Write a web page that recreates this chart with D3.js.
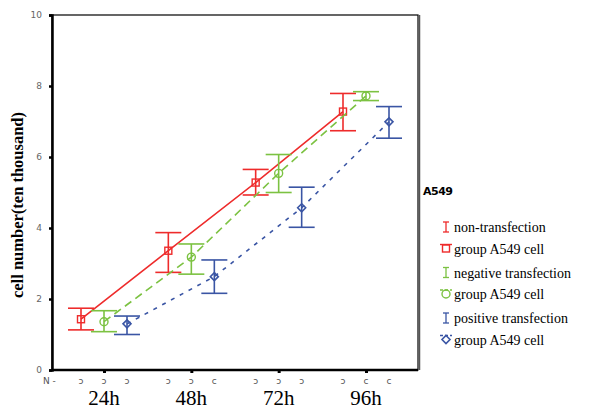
<!DOCTYPE html>
<html>
<head>
<meta charset="utf-8">
<script src="https://cdn.jsdelivr.net/npm/d3@7"></script>
<style>
  body { margin: 0; background: #fff; }
  svg { display: block; }
  .serif { font-family: "Liberation Serif", "Tinos", "Times New Roman", Times, "Nimbus Roman", "FreeSerif", "Noto Serif", "DejaVu Serif", serif; }
</style>
</head>
<body>
<div class="chart"></div>
<script>
// chart values
const times = ["24h", "48h", "72h", "96h"];
const groups = ["non", "neg", "pos"];
const meanNon = [1.43, 3.36, 5.28, 7.28];
const upperNon = [1.74, 3.87, 5.65, 7.79];
const lowerNon = [1.13, 2.75, 4.93, 6.74];
const meanNeg = [1.36, 3.18, 5.54, 7.72];
const upperNeg = [1.67, 3.55, 6.07, 7.84];
const lowerNeg = [1.08, 2.70, 5.00, 7.59];
const meanPos = [1.30, 2.63, 4.57, 6.99];
const upperPos = [1.52, 3.10, 5.15, 7.42];
const lowerPos = [1.00, 2.16, 4.02, 6.53];
const yTicks = [0, 2, 4, 6, 8, 10];
// small count labels under each group (as printed)
const nLabels = [["ɔ", "ɔ", "ɔ"], ["ɔ", "ɔ", "c"], ["ɔ", "ɔ", "ɔ"], ["ɔ", "c", "c"]];
const legendLines = [
  ["non-transfection", "group A549 cell"],
  ["negative transfection", "group A549 cell"],
  ["positive transfection", "group A549 cell"]
];

const svgWidth = 597;
const svgHeight = 409;
const frame = { left: 52, right: 418, top: 15, bottom: 370 };

const colors = { non: "#ee2b2b", neg: "#7cc242", pos: "#3a55a4" };
const dashes = { non: null, neg: "8,5", pos: "4,6" };

const series = [
  { key: "non", mean: meanNon, upper: upperNon, lower: lowerNon },
  { key: "neg", mean: meanNeg, upper: upperNeg, lower: lowerNeg },
  { key: "pos", mean: meanPos, upper: upperPos, lower: lowerPos }
];

const svg = d3.select(".chart")
  .append("svg")
  .attr("width", svgWidth)
  .attr("height", svgHeight);

// scales
const xScale = d3.scalePoint().domain(times).range([104, 366]);
const offset = d3.scalePoint().domain(groups).range([-23, 23]);
const yScale = d3.scaleLinear().domain([0, 10]).range([frame.bottom, frame.top]);

const xPos = (i, key) => xScale(times[i]) + offset(key);

// frame
svg.append("rect")
  .attr("x", frame.left)
  .attr("y", frame.top)
  .attr("width", frame.right - frame.left)
  .attr("height", frame.bottom - frame.top)
  .attr("fill", "none")
  .attr("stroke", "#000")
  .attr("stroke-width", 1.2);
svg.append("line")
  .attr("x1", frame.right + 1.5).attr("x2", frame.right + 1.5)
  .attr("y1", frame.top).attr("y2", frame.bottom)
  .attr("stroke", "#555").attr("stroke-width", 1.5);

// y axis
const leftAxis = d3.axisLeft(yScale).tickValues(yTicks).tickSize(3).tickPadding(7);
const yAxis = svg.append("g")
  .attr("transform", `translate(${frame.left}, 0)`)
  .call(leftAxis);
yAxis.select(".domain").attr("stroke-width", 2.5);
yAxis.selectAll(".tick line").attr("stroke-width", 2.5);
yAxis.selectAll("text")
  .attr("fill", "#666")
  .style("font-family", "DejaVu Sans, sans-serif")
  .style("font-size", "9px");

// x axis
const bottomAxis = d3.axisBottom(xScale).tickSize(3).tickFormat("");
const xAxis = svg.append("g")
  .attr("transform", `translate(0, ${frame.bottom})`)
  .call(bottomAxis);
xAxis.select(".domain").attr("d", `M${frame.left},0H${frame.right}`).attr("stroke-width", 2.5);
xAxis.selectAll(".tick line").attr("stroke-width", 3);

// count row under axis
svg.append("text")
  .attr("x", 43).attr("y", 384)
  .attr("fill", "#555")
  .style("font-family", "DejaVu Sans, sans-serif")
  .style("font-size", "9px")
  .text("N -");
times.forEach((t, i) => {
  groups.forEach((g, j) => {
    svg.append("text")
      .attr("x", xPos(i, g))
      .attr("y", 384)
      .attr("text-anchor", "middle")
      .attr("fill", "#555")
      .style("font-family", "DejaVu Sans, sans-serif")
      .style("font-size", "9px")
      .text(nLabels[i][j]);
  });
  svg.append("text")
    .attr("class", "serif")
    .attr("x", xScale(t))
    .attr("y", 405)
    .attr("text-anchor", "middle")
    .style("font-size", "21px")
    .text(t);
});

// y title
svg.append("text")
  .attr("class", "serif")
  .attr("transform", "rotate(-90)")
  .attr("x", -205)
  .attr("y", 23)
  .attr("text-anchor", "middle")
  .style("font-weight", "bold")
  .style("font-size", "16.5px")
  .text("cell number(ten thousand)");

// markers
function drawMarker(g, key, x, y) {
  const c = colors[key];
  if (key === "non") {
    g.append("rect").attr("x", x - 3.5).attr("y", y - 3.5).attr("width", 7).attr("height", 7)
      .attr("fill", "none").attr("stroke", c).attr("stroke-width", 1.4);
  } else if (key === "neg") {
    g.append("circle").attr("cx", x).attr("cy", y).attr("r", 4)
      .attr("fill", "none").attr("stroke", c).attr("stroke-width", 1.4);
  } else {
    g.append("path").attr("d", `M${x},${y - 4}L${x + 4},${y}L${x},${y + 4}L${x - 4},${y}Z`)
      .attr("fill", "none").attr("stroke", c).attr("stroke-width", 1.6);
  }
}

const line = d3.line().x(d => d.x).y(d => d.y);

series.forEach(s => {
  const c = colors[s.key];
  const g = svg.append("g");
  const pts = s.mean.map((v, i) => ({ x: xPos(i, s.key), y: yScale(v) }));

  g.append("path")
    .attr("d", line(pts))
    .attr("fill", "none")
    .attr("stroke", c)
    .attr("stroke-width", 1.6)
    .attr("stroke-dasharray", dashes[s.key]);

  s.mean.forEach((v, i) => {
    const x = xPos(i, s.key);
    const yt = yScale(s.upper[i]);
    const yb = yScale(s.lower[i]);
    g.append("line").attr("x1", x).attr("x2", x).attr("y1", yt).attr("y2", yb)
      .attr("stroke", c).attr("stroke-width", 1.6);
    [yt, yb].forEach(yy => {
      g.append("line").attr("x1", x - 13).attr("x2", x + 13).attr("y1", yy).attr("y2", yy)
        .attr("stroke", c).attr("stroke-width", 1.6);
    });
    drawMarker(g, s.key, x, yScale(v));
  });
});

// legend
svg.append("text")
  .attr("x", 423).attr("y", 195)
  .style("font-family", "DejaVu Sans, sans-serif")
  .style("font-weight", "bold")
  .style("font-size", "11px")
  .style("letter-spacing", "-0.5px")
  .text("A549");

series.forEach((s, k) => {
  const c = colors[s.key];
  const base1 = 232 + k * 45.5;
  const base2 = base1 + 21.5;
  const lg = svg.append("g");
  // error bar glyph
  lg.append("line").attr("x1", 446).attr("x2", 446).attr("y1", base1 - 10).attr("y2", base1)
    .attr("stroke", c).attr("stroke-width", 1.3);
  lg.append("line").attr("x1", 443).attr("x2", 449).attr("y1", base1 - 10).attr("y2", base1 - 10)
    .attr("stroke", c).attr("stroke-width", 1.3);
  lg.append("line").attr("x1", 443).attr("x2", 449).attr("y1", base1).attr("y2", base1)
    .attr("stroke", c).attr("stroke-width", 1.3);
  lg.append("text").attr("class", "serif").attr("x", 454).attr("y", base1)
    .style("font-size", "14px")
    .text(legendLines[k][0]);
  // line + marker glyph
  lg.append("line").attr("x1", 440).attr("x2", 452).attr("y1", base2 - 9).attr("y2", base2 - 9)
    .attr("stroke", c).attr("stroke-width", 1.4).attr("stroke-dasharray", dashes[s.key] ? "3,2" : null);
  drawMarker(lg, s.key, 446, base2 - 5);
  lg.append("text").attr("class", "serif").attr("x", 454).attr("y", base2)
    .style("font-size", "14px")
    .text(legendLines[k][1]);
});
</script>
</body>
</html>
